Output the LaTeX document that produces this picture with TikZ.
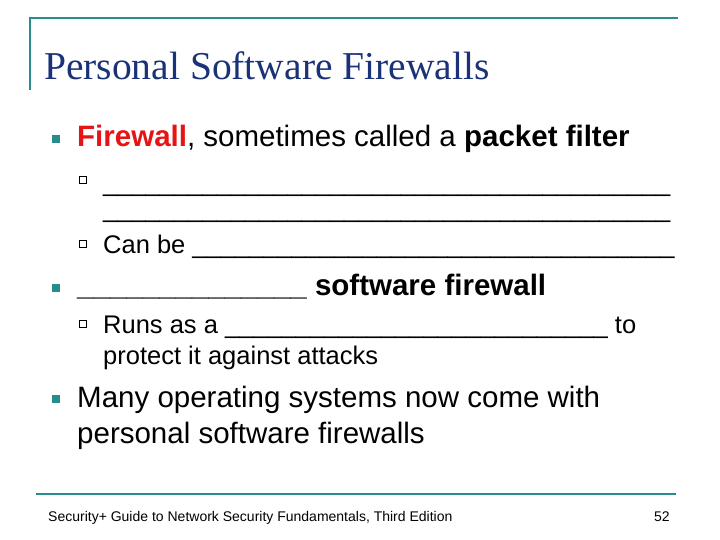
\documentclass[tikz,border=0pt]{standalone}
\usepackage{fontspec}
\setmainfont{Liberation Sans}
\newfontfamily\titlefont{Liberation Serif}
\definecolor{teal1}{RGB}{40,140,140}
\definecolor{titleblue}{RGB}{25,50,120}
\definecolor{fwred}{RGB}{230,20,20}
\begin{document}
\begin{tikzpicture}[x=1pt,y=-1pt,
  txt/.style={anchor=base west,inner sep=0pt},
  lvlone/.style={txt,font=\fontsize{29.5}{33}\selectfont},
  lvltwo/.style={txt,font=\fontsize{25.5}{29}\selectfont},
  sqa/.style={fill=teal1,draw=none,minimum size=8pt,inner sep=0pt},
  sqb/.style={draw=black,line width=0.5pt,minimum size=7pt,inner sep=0pt}]
\useasboundingbox (0,0) rectangle (720,540);
\coordinate (tl) at (30,18); \coordinate (tr) at (678,18); \coordinate (lb) at (30,90);
\draw[teal1,line width=1.6pt] (lb) -- (tl) -- (tr);
\coordinate (fl) at (36,494); \coordinate (fr) at (676,494);
\draw[teal1,line width=2pt] (fl) -- (fr);
\node[txt,font=\titlefont\fontsize{39.5}{44}\selectfont,text=titleblue] (title) at (44,80) {Personal Software Firewalls};
\node[sqa] (b1) at (56,139) {};
\node[lvlone] (t1) at (77,147) {\textcolor{fwred}{\textbf{Firewall}}, sometimes called a \textbf{packet filter}};
\node[sqb] (s1) at (83,180) {};
\node[lvltwo] (t2) at (103,192) {\_\_\_\_\_\_\_\_\_\_\_\_\_\_\_\_\_\_\_\_\_\_\_\_\_\_\_\_\_\_\_\_\_\_\_\_\_\_\_\_};
\node[lvltwo] (t3) at (103,218) {\_\_\_\_\_\_\_\_\_\_\_\_\_\_\_\_\_\_\_\_\_\_\_\_\_\_\_\_\_\_\_\_\_\_\_\_\_\_\_\_};
\node[sqb] (s2) at (83,244) {};
\node[lvltwo] (t4) at (103,253) {Can be \_\_\_\_\_\_\_\_\_\_\_\_\_\_\_\_\_\_\_\_\_\_\_\_\_\_\_\_\_\_\_\_\_\_};
\node[sqa] (b2) at (56,288) {};
\node[lvlone] (t5) at (77,295) {\textbf{\_\_\_\_\_\_\_\_\_\_\_\_\_\_ software firewall}};
\node[sqb] (s3) at (83,324) {};
\node[lvltwo] (t6) at (103,333) {Runs as a \_\_\_\_\_\_\_\_\_\_\_\_\_\_\_\_\_\_\_\_\_\_\_\_\_\_\_ to};
\node[lvltwo] (t7) at (103,364) {protect it against attacks};
\node[sqa] (b3) at (56,399) {};
\node[lvlone] (t8) at (77,407) {Many operating systems now come with};
\node[lvlone] (t9) at (77,443) {personal software firewalls};
\node[txt,font=\fontsize{14}{16}\selectfont] (foot) at (48,521) {Security+ Guide to Network Security Fundamentals, Third Edition};
\node[txt,font=\fontsize{14}{16}\selectfont] (num) at (654,521) {52};
\end{tikzpicture}
\end{document}
